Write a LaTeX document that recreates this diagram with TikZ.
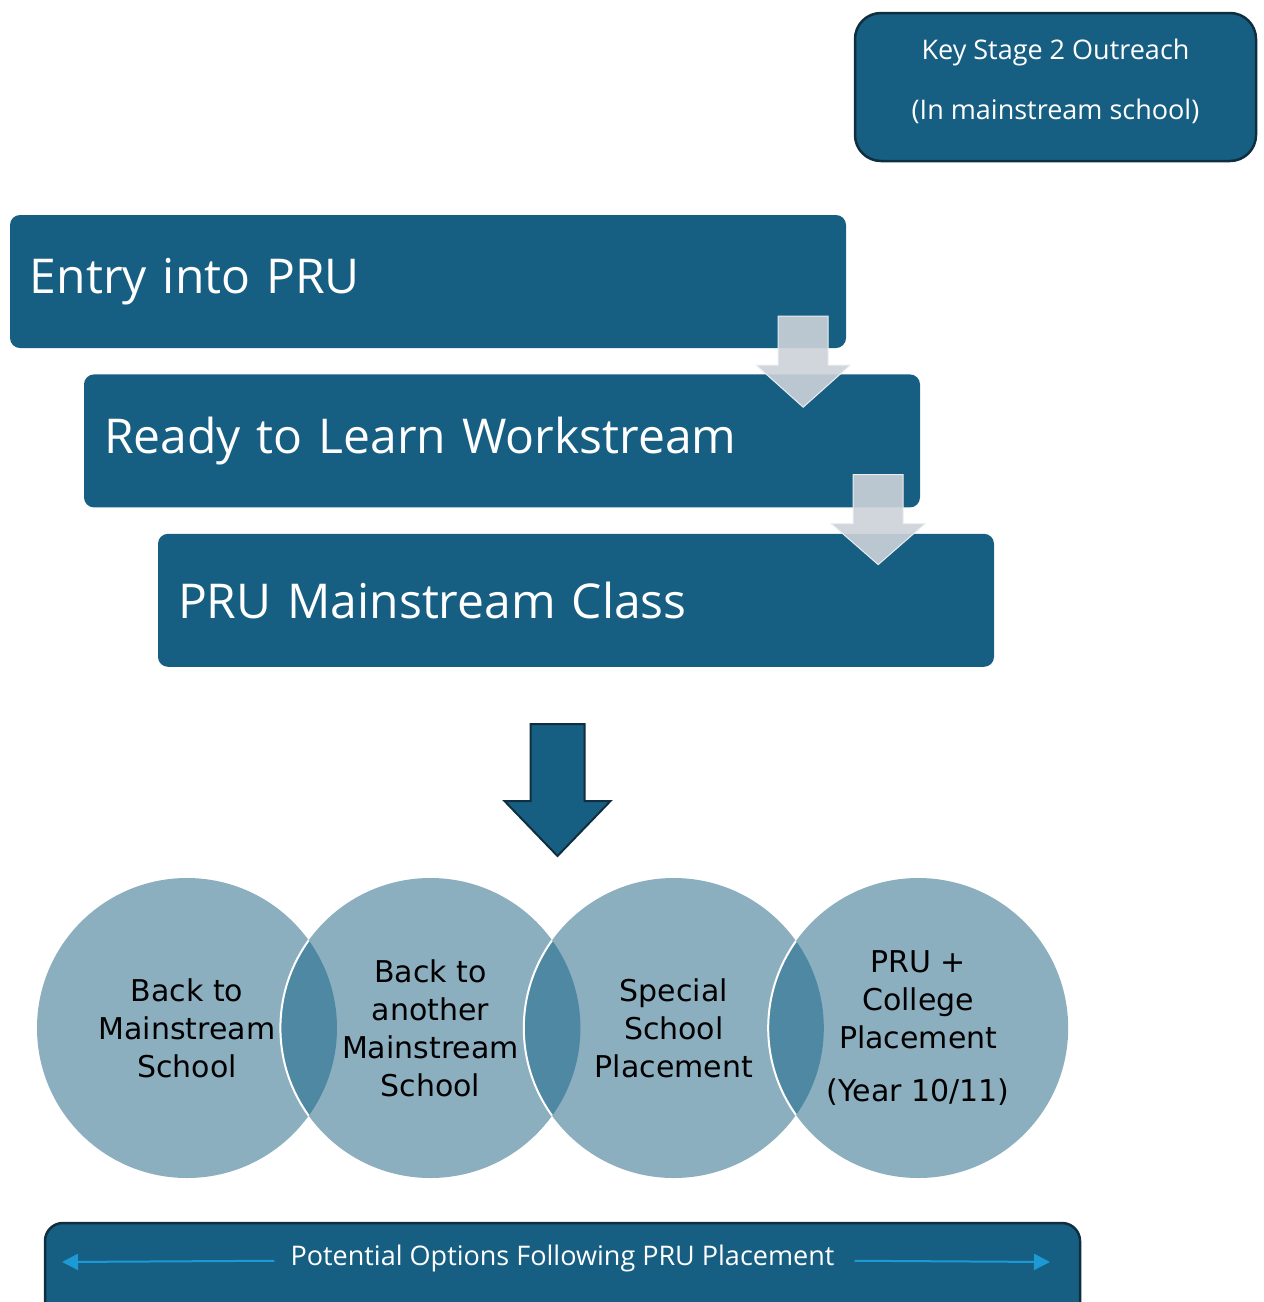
\documentclass[tikz,border=0pt]{standalone}
\usepackage{fontspec}
\setmainfont{Open Sans}
\newfontfamily\circlefont{DejaVu Sans}
\usepackage{xcolor}
\usetikzlibrary{positioning,calc,backgrounds,arrows.meta}
\definecolor{pruBlue}{HTML}{175F82}
\definecolor{pruEdge}{HTML}{0F2E3F}
\definecolor{softArrow}{RGB}{204,210,217}
\definecolor{vennFill}{HTML}{8CAFC0}
\definecolor{vennLens}{HTML}{4F88A3}
\definecolor{spanArrow}{HTML}{1B9AD6}
% block arrow pointing down: half shaft, shaft length, half head, head length
\newcommand{\blockdown}[4]{++(-#1,0) -- ++(2*#1,0) -- ++(0,#2) -- ++(#3-#1,0) -- ++(-#3,#4) -- ++(-#3,-#4) -- ++(#3-#1,0) -- cycle}
\tikzset{
    stage/.style={rectangle, rounded corners=10pt, fill=pruBlue, text=white, minimum height=133pt, text width=796pt, inner xsep=20pt, align=left, font=\fontsize{48}{58}\selectfont},
    outreach/.style={rectangle, rounded corners=26pt, draw=pruEdge, line width=2.5pt, fill=pruBlue, text=white, minimum width=401pt, minimum height=148pt, align=center, text depth=16pt, font=\fontsize{27}{60}\selectfont},
    option/.style={circle, minimum size=300pt, inner sep=0pt, align=center, font=\circlefont\fontsize{30}{38}\selectfont},
    softarrow/.style={fill=softArrow, fill opacity=0.9, draw=white!60!softArrow, line width=1pt},
    mainarrow/.style={fill=pruBlue, draw=pruEdge, line width=2pt},
    barbox/.style={rectangle, rounded corners=18pt, draw=pruEdge, line width=2.5pt, fill=pruBlue, minimum width=1035pt, minimum height=100pt},
    bartext/.style={inner sep=0pt, text=white, font=\fontsize{27}{30}\selectfont},
    spanarrow/.style={-{Triangle[length=16pt,width=16pt]}, draw=spanArrow, line width=2pt},
}
\begin{document}
\begin{tikzpicture}[x=1pt, y=-1pt]
    \useasboundingbox (0,0) rectangle (1264,1302);

    \node[outreach] (ks2) at (1055.5,87) {Key Stage 2 Outreach\\(In mainstream school)};

    \node[stage] (entry) at (428,281.5) {Entry into PRU};
    \node[stage, below=26pt of entry, xshift=74pt] (ready) {Ready to Learn Workstream};
    \node[stage, below=26pt of ready, xshift=74pt] (mainclass) {PRU Mainstream Class};

    \draw[softarrow] ($(entry.south east)+(-43,-32)$) \blockdown{25}{49}{47}{42};
    \draw[softarrow] ($(ready.south east)+(-42,-33)$) \blockdown{25}{49}{47}{41};
    \draw[mainarrow] ($(mainclass.south)+(-18.5,57)$) \blockdown{27}{77}{53}{55};

    % placement options
    \node[option] (back) at (187,1028) {Back to\\Mainstream\\School};
    \node[option, right=-57pt of back] (another) {Back to\\another\\Mainstream\\School};
    \node[option, right=-57pt of another] (special) {Special\\School\\Placement};
    \node[option, right=-56pt of special] (college) {PRU +\\College\\Placement\\[15pt](Year 10/11)};

    \begin{scope}[on background layer]
        \foreach \c in {back,another,special,college}
            \fill[vennFill] (\c.center) circle (150);
        \foreach \a/\b in {back/another,another/special,special/college}{
            \begin{scope}
                \clip (\a.center) circle (150);
                \fill[vennLens] (\b.center) circle (150);
                \draw[white, line width=2pt] (\b.center) circle (150);
            \end{scope}}
    \end{scope}

    \node[barbox] (optionsbar) at (562.5,1273) {};
    \node[bartext] (optionstext) at ([yshift=-37pt]optionsbar.north) {Potential Options Following PRU Placement};
    \coordinate (leftend) at (62,1262);
    \coordinate (rightend) at (1050,1262);
    \draw[spanarrow] ([xshift=-16pt,yshift=-2pt]optionstext.west) -- (leftend);
    \draw[spanarrow] ([xshift=20pt,yshift=-2pt]optionstext.east) -- (rightend);
\end{tikzpicture}
\end{document}
